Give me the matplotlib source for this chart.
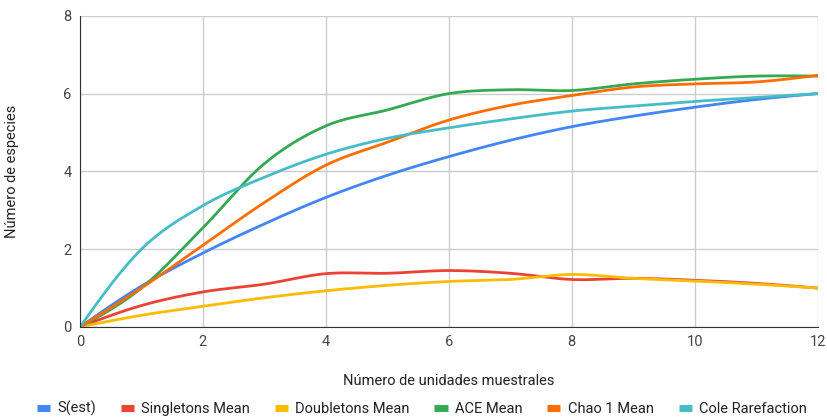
import numpy as np
import matplotlib
matplotlib.use("Agg")
import matplotlib.pyplot as plt

plt.rcParams['font.family'] = ['Roboto', 'DejaVu Sans']

x = [0, 1, 2, 3, 4, 5, 6, 7, 8, 9, 10, 11, 12]
s_est = [0, 1.05, 1.9, 2.65, 3.33, 3.9, 4.38, 4.8, 5.15, 5.42, 5.65, 5.85, 6.0]
singletons = [0, 0.55, 0.9, 1.1, 1.37, 1.38, 1.45, 1.38, 1.22, 1.25, 1.2, 1.12, 1.0]
doubletons = [0, 0.3, 0.53, 0.75, 0.93, 1.07, 1.17, 1.22, 1.35, 1.25, 1.18, 1.1, 1.0]
ace = [0, 1.0, 2.55, 4.2, 5.17, 5.58, 6.0, 6.1, 6.08, 6.25, 6.37, 6.45, 6.45]
chao1 = [0, 1.0, 2.1, 3.2, 4.16, 4.75, 5.32, 5.7, 5.95, 6.17, 6.25, 6.3, 6.47]
cole = [0, 2.0, 3.12, 3.85, 4.44, 4.85, 5.12, 5.35, 5.55, 5.68, 5.8, 5.9, 6.0]

names = ["S(est)", "Singletons Mean", "Doubletons Mean", "ACE Mean", "Chao 1 Mean", "Cole Rarefaction"]
series = [s_est, singletons, doubletons, ace, chao1, cole]
colors = ["#4285F4", "#EA4335", "#FBBC04", "#34A853", "#FF6D01", "#46BDC6"]


def smooth(xs, ys, n=30):
    xs = np.asarray(xs, float)
    ys = np.asarray(ys, float)
    m = np.zeros_like(ys)
    m[1:-1] = (ys[2:] - ys[:-2]) / (xs[2:] - xs[:-2])
    d0 = (ys[1] - ys[0]) / (xs[1] - xs[0])
    dn = (ys[-1] - ys[-2]) / (xs[-1] - xs[-2])
    m[0] = 1.5 * d0 - 0.5 * m[1]
    m[-1] = 1.5 * dn - 0.5 * m[-2]
    outx, outy = [], []
    for i in range(len(xs) - 1):
        h = xs[i + 1] - xs[i]
        t = np.linspace(0, 1, n, endpoint=False)
        h00 = 2 * t**3 - 3 * t**2 + 1
        h10 = t**3 - 2 * t**2 + t
        h01 = -2 * t**3 + 3 * t**2
        h11 = t**3 - t**2
        outx.extend(xs[i] + t * h)
        outy.extend(h00 * ys[i] + h10 * h * m[i] + h01 * ys[i + 1] + h11 * h * m[i + 1])
    outx.append(xs[-1])
    outy.append(ys[-1])
    return np.array(outx), np.array(outy)


fig = plt.figure(figsize=(8.27, 4.17), dpi=100)
ax = fig.add_axes([0.0967, 0.216, 0.892, 0.746])

for name, ys, c in zip(names, series, colors):
    sx, sy = smooth(x, ys)
    ax.plot(sx, sy, color=c, lw=2, label=name, solid_capstyle='round')

ax.set_xlim(0, 12)
ax.set_ylim(0, 8)
ax.set_xticks([0, 2, 4, 6, 8, 10, 12])
ax.set_yticks([0, 2, 4, 6, 8])
ax.grid(True, color="#cccccc", lw=1)
ax.set_axisbelow(True)
for s in ["top", "right"]:
    ax.spines[s].set_visible(False)
ax.spines["left"].set_color("#333333")
ax.spines["bottom"].set_color("#333333")
ax.tick_params(length=0, labelsize=10.5, colors="#444444", pad=6)
ax.set_xlabel("Número de unidades muestrales", fontsize=10.5, color="#222222")
ax.set_ylabel("Número de especies", fontsize=10.5, color="#222222")
ax.xaxis.set_label_coords(0.5, -0.15)
ax.yaxis.set_label_coords(-0.083, 0.5)

leg = fig.legend(*ax.get_legend_handles_labels(), loc="lower center", ncol=6,
                 bbox_to_anchor=(0.51, -0.03), frameon=False, fontsize=10.5,
                 handlelength=0.9, handletextpad=0.5, columnspacing=1.7)
for l in leg.get_lines():
    l.set_linewidth(5)
    l.set_solid_capstyle('butt')
for t in leg.get_texts():
    t.set_color("#222222")

fig.savefig("out.png", dpi=100)
